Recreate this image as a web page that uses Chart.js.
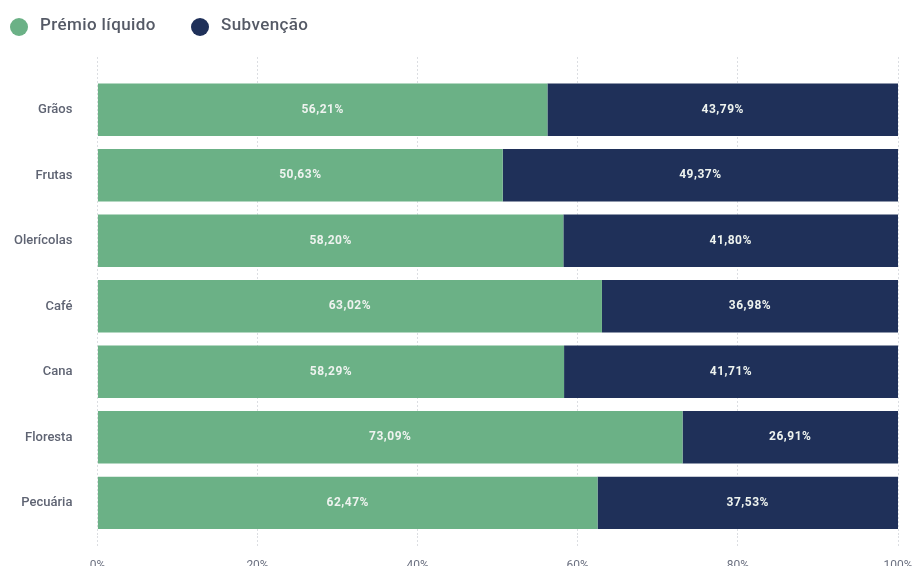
<!DOCTYPE html>
<html>
<head>
<meta charset="utf-8">
<script src="https://cdn.jsdelivr.net/npm/chart.js@4.4.0/dist/chart.umd.min.js"></script>
<style>
  html, body { margin: 0; padding: 0; background: #fff; overflow: hidden; }
  #wrap { width: 914px; height: 566px; overflow: hidden; }
  #box { width: 914px; height: 584px; }
</style>
</head>
<body>
<div id="wrap"><div id="box"><canvas id="bar-Chart"></canvas></div></div>
<script>
var categorias = ['Grãos', 'Frutas', 'Olerícolas', 'Café', 'Cana', 'Floresta', 'Pecuária'];
var premioLiquido = [56.21, 50.63, 58.20, 63.02, 58.29, 73.09, 62.47];
var subvencao = [43.79, 49.37, 41.80, 36.98, 41.71, 26.91, 37.53];
var ticksX = [0, 20, 40, 60, 80, 100];

var verde = '#6bb186';
var azul = '#1f3059';

// etichette dentro le barre
var etichette = {
    id: 'etichette',
    afterDatasetsDraw: function (chart) {
        var ctx = chart.ctx;
        ctx.save();
        ctx.font = 'bold 12px Roboto, sans-serif';
        ctx.letterSpacing = '0.5px';
        ctx.fillStyle = '#eef3ef';
        ctx.textAlign = 'center';
        ctx.textBaseline = 'middle';
        chart.data.datasets.forEach(function (ds, i) {
            var meta = chart.getDatasetMeta(i);
            meta.data.forEach(function (bar, j) {
                var p = bar.getCenterPoint();
                ctx.fillText(ds.data[j].toFixed(2).replace('.', ',') + '%', p.x, p.y);
            });
        });
        ctx.restore();
    }
};

// legenda disegnata a mano
var legenda = {
    id: 'legenda',
    afterDraw: function (chart) {
        var ctx = chart.ctx;
        var xs = [19, 200];
        ctx.save();
        ctx.font = '500 17px Roboto, sans-serif';
        ctx.letterSpacing = '0.4px';
        ctx.textBaseline = 'middle';
        chart.data.datasets.forEach(function (ds, i) {
            ctx.fillStyle = ds.backgroundColor;
            ctx.beginPath();
            ctx.arc(xs[i], 27, 9, 0, Math.PI * 2);
            ctx.fill();
            ctx.fillStyle = '#555a66';
            ctx.fillText(ds.label, xs[i] + 21, 26);
        });
        ctx.restore();
    }
};

var tickFissi = function (axis) {
    axis.ticks = ticksX.map(function (v) { return { value: v }; });
};
var senzaPadding = function (axis) {
    axis.paddingLeft = 0;
    axis.paddingRight = 0;
};

var ctx = document.getElementById('bar-Chart');
var chart = new Chart(ctx, {
    type: 'bar',
    data: {
        labels: categorias,
        datasets: [{
            label: 'Prémio líquido',
            backgroundColor: verde,
            data: premioLiquido
        }, {
            label: 'Subvenção',
            backgroundColor: azul,
            data: subvencao
        }]
    },
    options: {
        indexAxis: 'y',
        responsive: true,
        maintainAspectRatio: false,
        animation: false,
        layout: { padding: { left: -3, right: 16, top: 57, bottom: 0 } },
        datasets: { bar: { categoryPercentage: 0.8, barPercentage: 1 } },
        plugins: {
            legend: { display: false },
            tooltip: { enabled: false }
        },
        scales: {
            x: {
                stacked: true,
                min: 0,
                max: 100,
                afterBuildTicks: tickFissi,
                afterFit: senzaPadding,
                ticks: {
                    color: '#6b7080',
                    padding: 11,
                    font: { family: 'Roboto, sans-serif', size: 12 },
                    callback: function (v) { return v + '%'; }
                },
                grid: { color: '#dcdee2', tickLength: 12, tickBorderDash: [2, 2] },
                border: { display: false, dash: [2, 2] }
            },
            x2: {
                position: 'top',
                min: 0,
                max: 100,
                afterBuildTicks: tickFissi,
                afterFit: senzaPadding,
                ticks: { display: false },
                grid: { color: '#dcdee2', tickLength: 20, drawOnChartArea: false, tickBorderDash: [2, 2] },
                border: { display: false, dash: [2, 2] }
            },
            y: {
                stacked: true,
                ticks: {
                    color: '#5f6473',
                    padding: 17,
                    font: { family: 'Roboto, sans-serif', size: 13, weight: '500' }
                },
                grid: { display: false },
                border: { display: false }
            }
        }
    },
    plugins: [etichette, legenda]
});
</script>
</body>
</html>
